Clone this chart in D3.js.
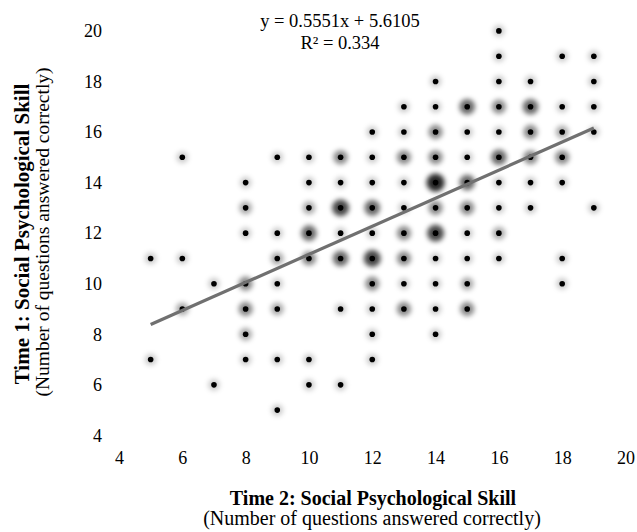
<!DOCTYPE html>
<html>
<head>
<meta charset="utf-8">
<script src="https://cdn.jsdelivr.net/npm/d3@7"></script>
<style>
  html, body { margin: 0; padding: 0; background: #fff; }
  svg { display: block; }
  text { font-family: "Liberation Serif", "Times New Roman", serif; fill: #000; }
</style>
</head>
<body>
<div id="chart"></div>
<script>
// Time 2 score, Time 1 score, and how many people share that point
const time2 = [16, 16,18,19, 14,16,17,19, 13,14,15,16,17,18,19, 12,13,14,15,16,17,18,19,
  6,9,10,11,12,13,14,15,16,17,18, 8,10,11,12,13,14,15,16,17,18, 8,10,11,12,13,14,15,16,17,19,
  8,9,10,11,12,13,14,15,16, 5,6,9,10,11,12,13,14,15,16,18, 7,8,9,12,13,14,15,18,
  6,8,9,11,12,13,14,15, 8,12,14, 5,8,9,10,12, 7,10,11, 9];
const time1 = [20, 19,19,19, 18,18,18,18, 17,17,17,17,17,17,17, 16,16,16,16,16,16,16,16,
  15,15,15,15,15,15,15,15,15,15,15, 14,14,14,14,14,14,14,14,14,14, 13,13,13,13,13,13,13,13,13,13,
  12,12,12,12,12,12,12,12,12, 11,11,11,11,11,11,11,11,11,11,11, 10,10,10,10,10,10,10,10,
  9,9,9,9,9,9,9,9, 8,8,8, 7,7,7,7,7, 6,6,6, 5];
const freq = [1, 1,1,1, 1,1,1,1, 1,1,4,3,4,1,1, 1,1,3,1,1,3,2,1,
  1,1,1,3,1,3,3,1,4,3,3, 1,1,1,1,1,6,4,1,1,1, 2,2,5,4,1,3,3,1,1,1,
  1,1,4,1,1,3,5,1,2, 1,1,2,3,4,5,3,1,1,1,1, 1,3,1,3,1,1,2,1,
  2,3,2,1,1,3,1,3, 2,1,1, 1,1,1,1,1, 1,1,1, 1];
const ticks = [4, 6, 8, 10, 12, 14, 16, 18, 20];
const slope = 0.5551, intercept = 5.6105, r2 = 0.334;
const fitRange = [5, 19];

(function() {
  const W = 637, H = 532;
  const pts = time2.map((d, i) => ({ x: d, y: time1[i], n: freq[i] }));

  const x = d3.scaleLinear().domain([4, 20]).range([119, 625.5]);
  const y = d3.scaleLinear().domain([4, 20]).range([435.4, 30.9]);

  const svg = d3.select('#chart').append('svg').attr('width', W).attr('height', H);

  const defs = svg.append('defs');
  defs.append('filter').attr('id', 'glow')
    .attr('x', '-100%').attr('y', '-100%').attr('width', '300%').attr('height', '300%')
    .append('feGaussianBlur').attr('stdDeviation', 2.9);

  // axes (labels only, no lines)
  const ax = svg.append('g').attr('transform', 'translate(0,451)')
    .call(d3.axisBottom(x).tickValues(ticks).tickSize(0).tickPadding(0));
  ax.select('.domain').remove();
  ax.selectAll('text').attr('font-family', '"Liberation Serif", serif')
    .style('font-size', '18px').attr('fill', '#000').attr('dy', '0.71em');

  const ay = svg.append('g').attr('transform', 'translate(102,0)')
    .call(d3.axisLeft(y).tickValues(ticks).tickSize(0).tickPadding(0));
  ay.select('.domain').remove();
  ay.selectAll('text').attr('font-family', '"Liberation Serif", serif')
    .style('font-size', '18px').attr('fill', '#000');

  // halos
  svg.append('g').selectAll('circle').data(pts).join('circle')
    .attr('cx', d => x(d.x)).attr('cy', d => y(d.y))
    .attr('r', d => 5.2 + d.n * 0.65)
    .attr('fill', '#000')
    .attr('fill-opacity', d => Math.min(0.9, 0.2 + 0.13 * (d.n - 1)))
    .attr('filter', 'url(#glow)');

  // dots
  svg.append('g').selectAll('circle').data(pts).join('circle')
    .attr('cx', d => x(d.x)).attr('cy', d => y(d.y))
    .attr('r', 2.8).attr('fill', '#000');

  // fit line
  svg.append('line')
    .attr('x1', x(fitRange[0])).attr('y1', y(slope * fitRange[0] + intercept))
    .attr('x2', x(fitRange[1])).attr('y2', y(slope * fitRange[1] + intercept))
    .attr('stroke', '#707070').attr('stroke-width', 3.2);

  // equation
  svg.append('text').attr('x', 340).attr('y', 27).attr('text-anchor', 'middle')
    .style('font-size', '18.5px').text(`y = ${slope}x + ${intercept}`);
  svg.append('text').attr('x', 340).attr('y', 49).attr('text-anchor', 'middle')
    .style('font-size', '18.5px').text(`R² = ${r2}`);

  // x titles
  svg.append('text').attr('x', 373).attr('y', 505).attr('text-anchor', 'middle')
    .style('font-size', '20px').style('font-weight', 'bold')
    .text('Time 2: Social Psychological Skill');
  svg.append('text').attr('x', 372).attr('y', 525).attr('text-anchor', 'middle')
    .style('font-size', '20px')
    .text('(Number of questions answered correctly)');

  // y titles
  svg.append('text').attr('transform', 'translate(29,234) rotate(-90)').attr('text-anchor', 'middle')
    .style('font-size', '21px').style('font-weight', 'bold')
    .text('Time 1: Social Psychological Skill');
  svg.append('text').attr('transform', 'translate(49,232) rotate(-90)').attr('text-anchor', 'middle')
    .style('font-size', '19.5px')
    .text('(Number of questions answered correctly)');
})();
</script>
</body>
</html>
